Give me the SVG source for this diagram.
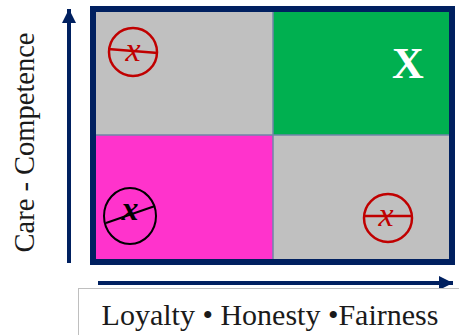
<svg xmlns="http://www.w3.org/2000/svg" width="459" height="335" viewBox="0 0 459 335">
<style>
.navy{fill:none;stroke:#002060;stroke-width:4}
.red{fill:none;stroke:#c00000;stroke-width:2.5}
.blk{fill:none;stroke:#000;stroke-width:2}
.div{stroke:#7186a8;stroke-width:1.5}
</style>
<defs>
<marker id="ah" markerUnits="userSpaceOnUse" markerWidth="16" markerHeight="14" refX="14" refY="7" orient="auto">
<path d="M0,0 L14,7 L0,14 Z" fill="#002060"/>
</marker>
</defs>
<rect width="459" height="335" fill="#ffffff"/>
<g id="matrix">
<rect x="96" y="12" width="177" height="123" fill="#c0c0c0"/>
<rect x="273" y="12" width="176" height="123" fill="#00b050"/>
<rect x="96" y="135" width="177" height="124" fill="#ff33cc"/>
<rect x="273" y="135" width="176" height="124" fill="#c0c0c0"/>
<line x1="273" y1="12" x2="273" y2="259" class="div"/>
<line x1="96" y1="135" x2="449" y2="135" class="div"/>
<rect x="93" y="9" width="359" height="253" fill="none" stroke="#002060" stroke-width="6"/>
</g>
<g id="top-left">
<circle cx="133" cy="52" r="24" class="red"/>
<line x1="108" y1="49" x2="158" y2="53" class="red"/>
<text x="133" y="61" text-anchor="middle" font-family="Liberation Serif, serif" font-size="34" font-style="italic" fill="#c00000">x</text>
</g>
<g id="top-right">
<text x="408" y="78" text-anchor="middle" font-family="Liberation Serif, serif" font-size="44" font-weight="bold" fill="#ffffff">X</text>
</g>
<g id="bottom-left">
<ellipse cx="130" cy="216" rx="26" ry="28" class="blk"/>
<line x1="106" y1="223" x2="155" y2="206" class="blk"/>
<text x="130" y="220" text-anchor="middle" font-family="Liberation Serif, serif" font-size="34" font-style="italic" font-weight="bold" fill="#000">x</text>
</g>
<g id="bottom-right">
<circle cx="388" cy="218" r="24" class="red"/>
<line x1="364" y1="216" x2="412" y2="216" class="red"/>
<text x="386" y="226" text-anchor="middle" font-family="Liberation Serif, serif" font-size="34" font-style="italic" fill="#c00000">x</text>
</g>
<g id="connectors">
<line x1="69" y1="263" x2="69" y2="9" class="navy" marker-end="url(#ah)"/>
<line x1="98" y1="283" x2="453" y2="283" class="navy" marker-end="url(#ah)"/>
</g>
<g id="y-label">
<text transform="translate(34,142.5) rotate(-90)" text-anchor="middle" font-family="Liberation Serif, serif" font-size="28.5" fill="#1a1a1a">Care - Competence</text>
</g>
<g id="x-label">
<rect x="78.5" y="288.5" width="400" height="60" fill="#ffffff" stroke="#bfbfbf" stroke-width="1"/>
<text x="270" y="325" text-anchor="middle" font-family="Liberation Serif, serif" font-size="30" fill="#1a1a1a">Loyalty • Honesty •Fairness</text>
</g>
</svg>
